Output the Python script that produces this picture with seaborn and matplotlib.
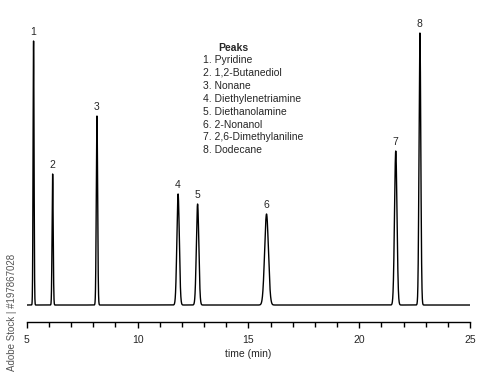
import numpy as np
import pandas as pd
import matplotlib
matplotlib.use('Agg')
import matplotlib.pyplot as plt
import seaborn as sns

# peak table
peak_ids = [1, 2, 3, 4, 5, 6, 7, 8]
peak_names = ['Pyridine', '1,2-Butanediol', 'Nonane', 'Diethylenetriamine',
              'Diethanolamine', '2-Nonanol', '2,6-Dimethylaniline', 'Dodecane']
peak_times = [5.31, 6.17, 8.17, 11.83, 12.71, 15.82, 21.65, 22.74]
peak_heights = [264, 131, 189, 111, 101, 91, 154, 272]
peak_sigmas = [0.022, 0.025, 0.030, 0.055, 0.055, 0.085, 0.055, 0.040]

# build the detector trace from the peak table
t = np.linspace(5, 25, 8001)
signal = np.zeros_like(t)
for rt, h, s in zip(peak_times, peak_heights, peak_sigmas):
    signal += h * np.exp(-0.5 * ((t - rt) / s) ** 2)
trace = pd.DataFrame({'time': t, 'signal': signal})

sns.set_theme(style='ticks')
plt.rcParams['font.family'] = ['Liberation Sans Narrow', 'Liberation Sans', 'DejaVu Sans']

fig = plt.figure(figsize=(5, 3.8), dpi=100)
ax = fig.add_axes([0.0534, 0.1526, 0.8866, 0.7947])

sns.lineplot(data=trace, x='time', y='signal', color='black', linewidth=1.0, ax=ax)

# peak numbers
for pid, rt, h in zip(peak_ids, peak_times, peak_heights):
    ax.annotate(str(pid), (rt, h), xytext=(0, 3), textcoords='offset points',
                ha='center', va='bottom', fontsize=7.5)

ax.set_xlim(5, 25)
ax.set_ylim(-17, 285)
ax.set_xticks([5, 10, 15, 20, 25])
ax.set_xticks(np.arange(5, 26, 1), minor=True)
ax.tick_params(axis='x', which='major', length=4.5, width=1.0, labelsize=7.5, pad=5, color='black')
ax.tick_params(axis='x', which='minor', length=3.5, width=1.0, color='black')
ax.set_yticks([])
ax.set_xlabel('time (min)', fontsize=7.5, labelpad=3)
ax.set_ylabel('')
sns.despine(ax=ax, left=True)
ax.spines['bottom'].set_linewidth(1.0)
ax.spines['bottom'].set_color('black')

# peak list
fig.text(0.436, 1 - 48 / 380, 'Peaks', fontsize=7.5, fontweight='bold', ha='left', va='center')
for i, (pid, name) in enumerate(zip(peak_ids, peak_names)):
    fig.text(0.406, 1 - (60 + 12.9 * i) / 380, f'{pid}. {name}', fontsize=7.5,
             ha='left', va='center')

fig.text(0.024, 1 - 312 / 380, 'Adobe Stock | #197867028', rotation=90, fontsize=7,
         color='#555555', ha='center', va='center')

fig.savefig('out.png', dpi=100)
